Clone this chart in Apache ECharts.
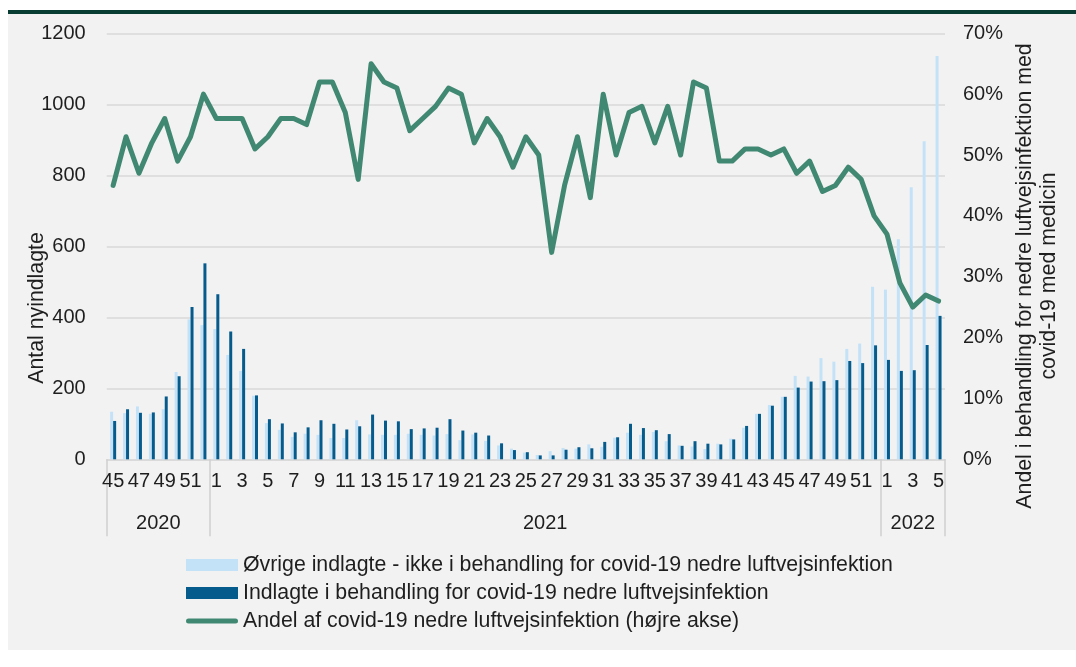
<!DOCTYPE html>
<html>
<head>
<meta charset="utf-8">
<script src="https://cdn.jsdelivr.net/npm/echarts@6/dist/echarts.min.js"></script>
<style>
  html, body { margin: 0; padding: 0; background: #ffffff; }
  #chart { width: 1076px; height: 667px; }
</style>
</head>
<body>
<div id="chart"></div>
<script>
// Week numbers per year (ISO weeks shown on the category axis)
const weeks2020 = [45, 46, 47, 48, 49, 50, 51, 52];
const weeks2021 = [1, 2, 3, 4, 5, 6, 7, 8, 9, 10, 11, 12, 13, 14, 15, 16, 17, 18, 19, 20,
  21, 22, 23, 24, 25, 26, 27, 28, 29, 30, 31, 32, 33, 34, 35, 36, 37, 38, 39, 40,
  41, 42, 43, 44, 45, 46, 47, 48, 49, 50, 51, 52];
const weeks2022 = [1, 2, 3, 4, 5];
const yearLabels = ['2020', '2021', '2022'];

// Other admissions – not treated for covid-19 lower respiratory infection
const otherAdmitted = [
  134, 130, 149, 128, 141, 246, 394, 378,
  367, 294, 249, 179, 102, 83, 63, 72, 69, 60, 60, 110, 70, 69, 69, 72, 69, 67,
  71, 54, 70, 52, 39, 30, 19, 12, 23, 32, 30, 42, 35, 61, 75, 69, 77, 51, 39, 36,
  29, 44, 58, 89, 128, 153, 176, 235, 233, 285, 275, 311, 326, 486,
  478, 620, 766, 896, 1136
];

// Admitted and treated for covid-19 lower respiratory infection
const covidTreated = [
  108, 141, 131, 132, 177, 234, 429, 552,
  465, 360, 311, 180, 113, 101, 76, 90, 110, 100, 84, 93, 126, 109, 107, 85, 87, 89,
  113, 81, 75, 67, 45, 26, 20, 11, 11, 27, 34, 31, 49, 62, 100, 88, 82, 71, 38, 51,
  44, 42, 56, 94, 128, 151, 176, 202, 219, 220, 223, 277, 271, 321,
  280, 249, 251, 322, 404
];

// Share with covid-19 lower respiratory infection, percent (right axis)
const covidShare = [
  45, 53, 47, 52, 56, 49, 53, 60,
  56, 56, 56, 51, 53, 56, 56, 55, 62, 62, 57, 46, 65, 62, 61, 54, 56, 58,
  61, 60, 52, 56, 53, 48, 53, 50, 34, 45, 53, 43, 60, 50, 57, 58, 52, 58, 50, 62,
  61, 49, 49, 51, 51, 50, 51, 47, 49, 44, 45, 48, 46, 40,
  37, 29, 25, 27, 26
];

const leftTicks = { min: 0, max: 1200, interval: 200 };
const rightTicks = { min: 0, max: 70, interval: 10 };

const seriesNames = [
  'Øvrige indlagte - ikke i behandling for covid-19 nedre luftvejsinfektion',
  'Indlagte i behandling for covid-19 nedre luftvejsinfektion',
  'Andel af covid-19 nedre luftvejsinfektion (højre akse)'
];

// Category keys "year-week" keep repeated week numbers distinct
const categories = []
  .concat(weeks2020.map(w => '2020-' + w))
  .concat(weeks2021.map(w => '2021-' + w))
  .concat(weeks2022.map(w => '2022-' + w));

// Year group boundaries and centres on a 0..N value scale laid over the categories
const n2020 = weeks2020.length, n2021 = weeks2021.length, n2022 = weeks2022.length;
const total = n2020 + n2021 + n2022;
const groupEdges = [0, n2020, n2020 + n2021, total];
const groupCentres = [n2020 / 2, n2020 + n2021 / 2, n2020 + n2021 + n2022 / 2];

const FONT = '"Liberation Sans", Arial, sans-serif';
const TEXT = '#1e1e1e';
const FS_TICK = 20;
const FS_TEXT = 21.3;

const LINE_COLOR = '#418872';
// capsule-shaped legend mark for the line series
const LINE_ICON = 'path://M2.5,0 L49.5,0 A2.5,2.5 0 0 1 49.5,5 L2.5,5 A2.5,2.5 0 0 1 2.5,0 Z';

const chart = echarts.init(document.getElementById('chart'), null, { renderer: 'canvas' });

chart.setOption({
  backgroundColor: '#ffffff',
  animation: false,
  textStyle: { fontFamily: FONT, color: TEXT },
  graphic: [
    { type: 'rect', z: -100, silent: true, shape: { x: 8, y: 13, width: 1068, height: 637 }, style: { fill: '#f2f2f2' } },
    { type: 'rect', z: -99, silent: true, shape: { x: 8, y: 10, width: 1068, height: 4 }, style: { fill: '#083d33' } },
    {
      type: 'text', x: 37, y: 308, rotation: Math.PI / 2, silent: true,
      style: { text: 'Antal nyindlagte', font: FS_TEXT + 'px ' + FONT, fill: TEXT, align: 'center', verticalAlign: 'middle' }
    },
    {
      type: 'text', x: 1037, y: 276, rotation: Math.PI / 2, silent: true,
      style: {
        text: 'Andel i behandling for nedre luftvejsinfektion med\ncovid-19 med medicin',
        font: FS_TEXT + 'px ' + FONT, fill: TEXT, align: 'center', verticalAlign: 'middle', lineHeight: 24
      }
    }
  ],
  grid: { left: 106.7, right: 131, top: 33.3, bottom: 207.7, containLabel: false },
  legend: {
    orient: 'vertical',
    left: 186,
    top: 554.5,
    padding: 0,
    itemWidth: 52,
    itemHeight: 12,
    itemGap: 7,
    textStyle: { fontSize: FS_TEXT, fontFamily: FONT, color: TEXT, lineHeight: 21 },
    data: [
      { name: seriesNames[0], icon: 'rect' },
      { name: seriesNames[1], icon: 'rect' },
      { name: seriesNames[2], icon: LINE_ICON }
    ]
  },
  xAxis: [
    {
      type: 'category',
      data: categories,
      axisLine: { show: true, lineStyle: { color: '#d9d9d9', width: 1.5 } },
      axisTick: { show: false },
      splitLine: { show: false },
      axisLabel: {
        interval: 1,
        margin: 12,
        fontSize: FS_TICK,
        fontFamily: FONT,
        color: TEXT,
        formatter: v => v.split('-')[1]
      }
    },
    {
      type: 'value',
      min: 0,
      max: total,
      position: 'bottom',
      axisLine: { show: false },
      splitLine: { show: false },
      axisTick: {
        show: true,
        customValues: groupEdges,
        length: 77,
        lineStyle: { color: '#d0d0d0', width: 1.5 }
      },
      axisLabel: {
        customValues: groupCentres,
        margin: 54,
        fontSize: FS_TICK,
        fontFamily: FONT,
        color: TEXT,
        formatter: v => yearLabels[groupCentres.indexOf(v)] || ''
      }
    }
  ],
  yAxis: [
    {
      type: 'value',
      min: leftTicks.min, max: leftTicks.max, interval: leftTicks.interval,
      axisLine: { show: false },
      axisTick: { show: false },
      splitLine: { lineStyle: { color: '#d9d9d9', width: 1.5 } },
      axisLabel: { margin: 21, fontSize: FS_TICK, fontFamily: FONT, color: TEXT, formatter: v => String(v) }
    },
    {
      type: 'value',
      position: 'right',
      min: rightTicks.min, max: rightTicks.max, interval: rightTicks.interval,
      axisLine: { show: false },
      axisTick: { show: false },
      splitLine: { show: false },
      axisLabel: { margin: 18, fontSize: FS_TICK, fontFamily: FONT, color: TEXT, formatter: '{value}%' }
    }
  ],
  series: [
    {
      name: seriesNames[0],
      type: 'bar',
      xAxisIndex: 0, yAxisIndex: 0,
      data: otherAdmitted,
      barWidth: 3,
      barGap: '0%',
      itemStyle: { color: '#c3e2f7' }
    },
    {
      name: seriesNames[1],
      type: 'bar',
      xAxisIndex: 0, yAxisIndex: 0,
      data: covidTreated,
      barWidth: 3,
      itemStyle: { color: '#065b8d' }
    },
    {
      name: seriesNames[2],
      type: 'line',
      xAxisIndex: 0, yAxisIndex: 1,
      data: covidShare,
      symbol: 'none',
      z: 5,
      lineStyle: { color: LINE_COLOR, width: 5, cap: 'round', join: 'round' },
      itemStyle: { color: LINE_COLOR }
    }
  ]
});
</script>
</body>
</html>
